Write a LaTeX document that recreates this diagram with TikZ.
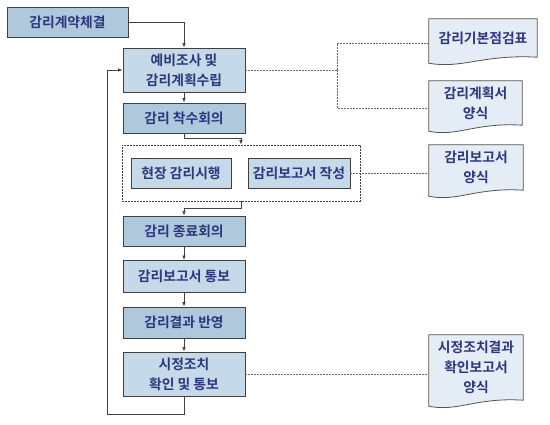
\documentclass[tikz,border=0pt]{standalone}
\usepackage{fontspec}
\setmainfont{Noto Sans CJK KR}[BoldFont={Noto Sans CJK KR Bold}]
\definecolor{adlight}{RGB}{198,217,232}
\definecolor{addark}{RGB}{176,200,220}
\definecolor{addoc}{RGB}{228,236,245}
\definecolor{adtext}{RGB}{45,55,125}
\definecolor{adline}{RGB}{64,64,64}
\definecolor{addots}{RGB}{105,105,105}
\usetikzlibrary{arrows.meta,calc,backgrounds}

\begin{document}
\begin{tikzpicture}[x=1pt,y=-1pt,
  adbox/.style={draw=adline,fill=adlight,line width=0.8pt,minimum width=122pt,minimum height=30pt,
    inner sep=2pt,align=center,font=\bfseries\fontsize{13.8}{20}\selectfont,text=adtext},
  addarkbox/.style={adbox,fill=addark},
  addoctext/.style={inner sep=0pt,align=center,font=\bfseries\fontsize{13.8}{20}\selectfont,text=adtext},
  addocline/.style={draw=adline!90,fill=addoc,line width=0.8pt},
  adflow/.style={draw=adline,line width=0.8pt,-{Latex[length=4.5pt,width=3.5pt]}},
  addotted/.style={draw=addots,line width=0.8pt,dash pattern=on 1.6pt off 1.4pt}
]
  \useasboundingbox (0,0) rectangle (550,425);

  % main flow
  \node[addarkbox] (contract) at (67.5,22.5) [minimum width=121pt] {감리계약체결};
  \node[adbox,minimum height=44pt] (prep) at (184,70) {예비조사 및\\감리계획수립};
  \node[addarkbox] (kickoff) at (184,118) {감리 착수회의};
  \node[draw=adline,line width=0.7pt,dash pattern=on 1.6pt off 1.4pt,minimum width=238pt,minimum height=56pt]
    (grp) at (241,173) {};
  \node[adbox,minimum width=100pt] (field) at (181,173) {현장 감리시행};
  \node[adbox,minimum width=102pt] (write) at (299,173) {감리보고서 작성};
  \node[addarkbox] (closing) at (184,231) {감리 종료회의};
  \node[adbox,minimum height=32pt] (notify) at (184,276.5) {감리보고서 통보};
  \node[addarkbox,minimum height=31pt] (apply) at (184,322.5) {감리결과 반영};
  \node[adbox,minimum height=44pt] (fix) at (184,374) {시정조치\\확인 및 통보};

  % documents
  \node[addoctext,minimum width=108pt,minimum height=38pt] (chk) at (483,38) {감리기본점검표};
  \node[addoctext,minimum width=93pt,minimum height=44pt] (plan) at (475.5,103) {감리계획서\\양식};
  \node[addoctext,minimum width=94pt,minimum height=45pt] (rep) at (476,167.5) {감리보고서\\양식};
  \node[addoctext,minimum width=94pt,minimum height=65pt] (fixrep) at (476,367.5) {시정조치결과\\확인보고서\\양식};
  \begin{scope}[on background layer]
    \foreach \d in {chk,plan,rep,fixrep}{
      \draw[addocline] ($(\d.south west)+(0,6)$) -- (\d.north west) -- (\d.north east) -- (\d.south east)
        .. controls ($(\d.south)+(0,-3)$) and ($(\d.south west)!0.3!(\d.south east)+(0,12)$)
        .. ($(\d.south west)+(0,6)$) -- cycle;
    }
  \end{scope}

  % connectors
  \coordinate (junc) at (337,70);
  \coordinate (loop) at (107,414);
  \draw[adflow] (contract.east) -| (prep.north);
  \draw[adflow] (prep.south) -- (kickoff.north);
  \draw[adflow] (kickoff.south) -- ++(0,5) -| (grp.north);
  \draw[adflow] (grp.south) -- ++(0,7) -| (closing.north);
  \draw[adflow] (closing.south) -- (notify.north);
  \draw[adflow] (notify.south) -- (apply.north);
  \draw[adflow] (apply.south) -- (fix.north);
  \draw[adflow] (fix.south) |- (loop) |- (prep.west);

  \draw[addotted] (prep.east) -- (junc);
  \draw[addotted] (junc) |- ($(chk.west)+(0,5)$);
  \draw[addotted] (junc) |- ($(plan.west)+(0,5)$);
  \draw[addotted] (write.east) -- (write.east -| rep.west);
  \draw[addotted] (fix.east) -- (fix.east -| fixrep.west);
\end{tikzpicture}
\end{document}
